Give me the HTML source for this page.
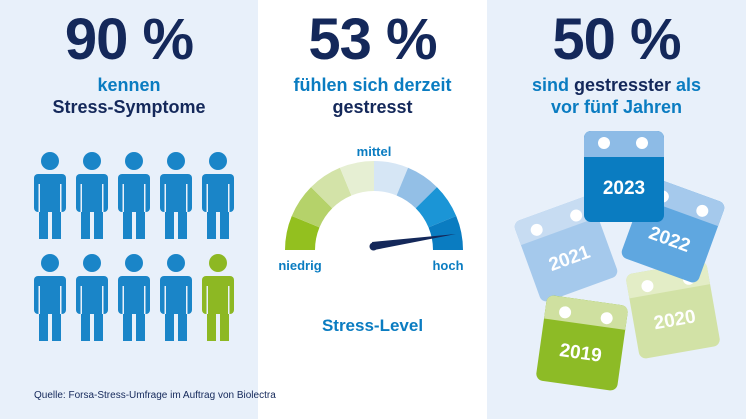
<!DOCTYPE html>
<html><head><meta charset="utf-8"><style>
body{margin:0;width:746px;height:419px;overflow:hidden;font-family:"Liberation Sans",sans-serif;background:#fff;position:relative}
.p{position:absolute;top:0;height:419px}
.big{position:absolute;width:100%;text-align:center;top:6px;font-size:58px;font-weight:bold;color:#14285a;letter-spacing:-1px}
.sub{position:absolute;width:100%;text-align:center;top:74px;font-size:18px;font-weight:bold;line-height:22px;color:#14285a}
.b{color:#0a7cc1}
.cal{position:absolute;width:82px;height:86px;border-radius:7px;overflow:hidden}
.cal .top{height:24px}
.cal .yr{color:#fff;font-weight:bold;font-size:19px;text-align:center;line-height:60px}
.ring{position:absolute;top:9px;width:12px;height:12px;border-radius:50%;background:#fff}
</style></head><body>
<div class="p" style="left:0;width:258px;background:#e8f0fa">
 <div class="big">90 %</div>
 <div class="sub"><span class="b">kennen</span><br>Stress-Symptome</div>
 <svg id="people" width="258" height="419" style="position:absolute;left:0;top:0"></svg>
</div>
<div class="p" style="left:258px;width:229px;background:#fff">
 <div class="big">53 %</div>
 <div class="sub"><span class="b">fühlen sich derzeit</span><br>gestresst</div>
 <svg id="gauge" width="229" height="419" style="position:absolute;left:0;top:0"></svg>
 <div style="position:absolute;width:100%;text-align:center;top:316px;font-size:17px;font-weight:bold;color:#0a7cc1">Stress-Level</div>
</div>
<div style="position:absolute;left:34px;top:390px;font-size:10px;color:#14285a;white-space:nowrap;z-index:5">Quelle: Forsa-Stress-Umfrage im Auftrag von Biolectra</div>
<div class="p" style="left:487px;width:259px;background:#e8f0fa">
 <div class="big">50 %</div>
 <div class="sub"><span class="b">sind</span> gestresster <span class="b">als</span><br><span class="b">vor fünf Jahren</span></div>
</div>
<div class="cal" style="left:632px;top:267px;transform:rotate(-10deg);background:#d2e2a6"><div class="top" style="background:#e3edc6"></div><div class="ring" style="left:14px"></div><div class="ring" style="left:56px"></div><div class="yr">2020</div></div>
<div class="cal" style="left:525px;top:206px;transform:rotate(-20deg);background:#a5c9ec"><div class="top" style="background:#c7dcf2"></div><div class="ring" style="left:14px"></div><div class="ring" style="left:56px"></div><div class="yr">2021</div></div>
<div class="cal" style="left:541px;top:300px;transform:rotate(8deg);background:#8dbb26"><div class="top" style="background:#cfe0a0"></div><div class="ring" style="left:14px"></div><div class="ring" style="left:56px"></div><div class="yr">2019</div></div>
<div class="cal" style="left:632px;top:187px;transform:rotate(20deg);background:#5fa7e0"><div class="top" style="background:#a5c9ec"></div><div class="ring" style="left:14px"></div><div class="ring" style="left:56px"></div><div class="yr">2022</div></div>
<div class="cal" style="left:584px;top:131px;width:80px;background:#0a7cc1;height:91px"><div class="top" style="background:#8dbbe6;height:26px"></div><div class="ring" style="left:14px;top:6px"></div><div class="ring" style="left:52px;top:6px"></div><div class="yr" style="line-height:64px">2023</div></div>
<script>
const ns="http://www.w3.org/2000/svg";
function mk(p,t,a){const e=document.createElementNS(ns,t);for(const k in a)e.setAttribute(k,a[k]);p.appendChild(e);return e;}
const peopleCols=[50,92,134,176,218], peopleRows=[150,252];
const highlighted=[9];
const ps=document.getElementById('people');
let idx=0;
peopleRows.forEach(y=>peopleCols.forEach(x=>{
 const c=highlighted.includes(idx)?'#8db823':'#1a85c8';
 const g=mk(ps,'g',{fill:c});
 
 
 mk(g,'circle',{cx:x,cy:y+11,r:9});
 mk(g,'rect',{x:x-16,y:y+24,width:32,height:38,rx:4});
 mk(g,'rect',{x:x-11,y:y+55,width:9,height:34});
 mk(g,'rect',{x:x+2,y:y+55,width:9,height:34});
 mk(ps,'rect',{x:x-11.5,y:y+34,width:1.5,height:28,fill:'#e8f0fa'});
 mk(ps,'rect',{x:x+10,y:y+34,width:1.5,height:28,fill:'#e8f0fa'});
 idx++;
}));
const segColors=['#93c01f','#b5d26a','#d3e3a8','#e6efd3','#d6e6f5','#93bfe6','#1b95d6','#0a7cc1'];
const needleValue=0.95;
const gs=document.getElementById('gauge');
const cx=116,cy=250,R=89,r=59;
function pt(a,rad){return [cx+rad*Math.cos(a),cy-rad*Math.sin(a)];}
segColors.forEach((col,i)=>{
 const a0=Math.PI*(1-i/segColors.length),a1=Math.PI*(1-(i+1)/segColors.length);
 const p0=pt(a0,R),p1=pt(a1,R),p2=pt(a1,r),p3=pt(a0,r);
 const s=mk(gs,'path',{fill:col});
 s.setAttribute('d',`M${p0[0]} ${p0[1]}A${R} ${R} 0 0 1 ${p1[0]} ${p1[1]}L${p2[0]} ${p2[1]}A${r} ${r} 0 0 0 ${p3[0]} ${p3[1]}Z`);
 
 
});
const na=Math.PI*(1-needleValue);
const nx=cx+83*Math.cos(na),ny=cy-3-83*Math.sin(na);
const nd=mk(gs,'path',{d:`M${cx-2} ${cy-8}L${nx} ${ny}L${cx} ${cy}Z`,fill:'#14285a'});


mk(gs,'circle',{cx:cx-0.5,cy:cy-3.5,r:4,fill:'#14285a'});
[['mittel',116,156],['niedrig',42,270],['hoch',190,270]].forEach(([t,x,y])=>{
 const e=mk(gs,'text',{x:x,y:y,'text-anchor':'middle','font-size':13,'font-weight':'bold',fill:'#0a7cc1','font-family':'Liberation Sans'});
 e.textContent=t;
 
 
});
</script>
</body></html>
